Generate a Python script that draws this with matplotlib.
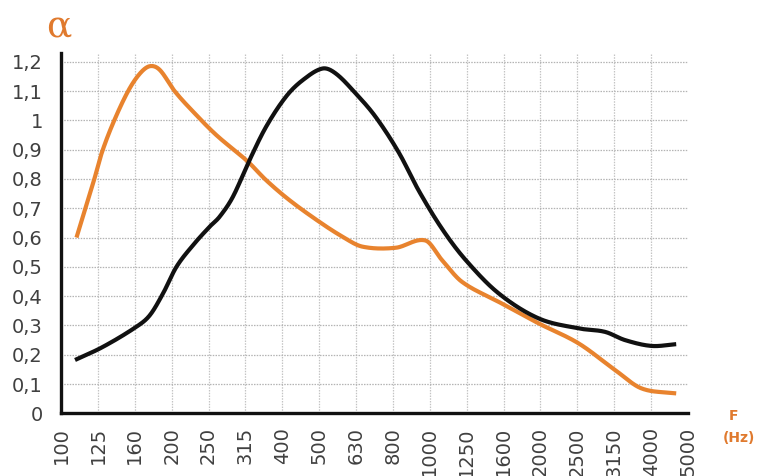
import numpy as np
import matplotlib
matplotlib.use("Agg")
import matplotlib.pyplot as plt

# 1/3-octave band labels (Hz) along the category axis
freq_labels = ["100", "125", "160", "200", "250", "315", "400", "500", "630",
               "800", "1000", "1250", "1600", "2000", "2500", "3150", "4000", "5000"]

y_ticks = [0, 0.1, 0.2, 0.3, 0.4, 0.5, 0.6, 0.7, 0.8, 0.9, 1.0, 1.1, 1.2]
y_tick_labels = ["0", "0,1", "0,2", "0,3", "0,4", "0,5", "0,6", "0,7", "0,8",
                 "0,9", "1", "1,1", "1,2"]

# Orange curve: absorption coefficient vs band position
orange_pos = [0.42, 0.87, 1.10, 1.41, 1.82, 2.14, 2.41, 2.68, 3.08, 3.58, 4.21,
              5.06, 5.56, 6.19, 7.00, 7.63, 8.17, 9.07, 9.88, 10.33, 10.87,
              11.86, 12.95, 14.03, 15.02, 15.74, 16.68]
orange_alpha = [0.60, 0.785, 0.887, 0.99, 1.10, 1.16, 1.185, 1.172, 1.10, 1.03,
                0.95, 0.86, 0.796, 0.728, 0.654, 0.603, 0.569, 0.565, 0.59,
                0.523, 0.449, 0.381, 0.307, 0.239, 0.148, 0.085, 0.068]

# Black curve
black_pos = [0.38, 1.14, 2.05, 2.41, 2.77, 3.13, 3.58, 4.03, 4.30, 4.66, 5.11,
             5.56, 6.10, 6.55, 7.09, 7.45, 7.99, 8.53, 9.16, 9.70, 10.33, 10.96,
             11.86, 12.95, 14.03, 14.75, 15.29, 16.01, 16.68]
black_alpha = [0.182, 0.227, 0.296, 0.335, 0.41, 0.50, 0.574, 0.637, 0.671,
               0.739, 0.864, 0.978, 1.081, 1.137, 1.177, 1.16, 1.092, 1.012,
               0.89, 0.76, 0.63, 0.525, 0.41, 0.324, 0.29, 0.278, 0.25, 0.23,
               0.236]

ORANGE = "#E8832E"
LABEL_ORANGE = "#E07A2E"


def smooth(xs, ys, n=30):
    """Cubic Hermite curve through the points with cardinal tangents."""
    x = np.asarray(xs, float)
    y = np.asarray(ys, float)
    m = np.empty_like(y)
    m[1:-1] = (y[2:] - y[:-2]) / (x[2:] - x[:-2])
    m[0] = (y[1] - y[0]) / (x[1] - x[0])
    m[-1] = (y[-1] - y[-2]) / (x[-1] - x[-2])
    out_x, out_y = [], []
    for i in range(len(x) - 1):
        h = x[i + 1] - x[i]
        t = np.linspace(0, 1, n, endpoint=False)
        h00 = 2 * t**3 - 3 * t**2 + 1
        h10 = t**3 - 2 * t**2 + t
        h01 = -2 * t**3 + 3 * t**2
        h11 = t**3 - t**2
        out_x.append(x[i] + t * h)
        out_y.append(h00 * y[i] + h10 * h * m[i] + h01 * y[i + 1] + h11 * h * m[i + 1])
    out_x.append([x[-1]])
    out_y.append([y[-1]])
    return np.concatenate(out_x), np.concatenate(out_y)


plt.rcParams["font.family"] = ["DejaVu Sans"]

fig = plt.figure(figsize=(7.6, 4.76), dpi=100)
ax = fig.add_axes([61 / 760, 1 - 413.3 / 476, (688 - 61) / 760, (413.3 - 53) / 476])

ax.set_xlim(0, len(freq_labels) - 1)
ax.set_ylim(0, 1.23)

# light dotted grid
for xv in range(1, len(freq_labels) - 1):
    ax.axvline(xv, color="#c4c4c4", lw=0.9, ls=(0, (1.2, 1.0)), zorder=0)
for yv in y_ticks[1:]:
    ax.axhline(yv, color="#b4b4b4", lw=0.9, ls=(0, (1.2, 1.0)), zorder=0)

ox, oy = smooth(orange_pos, orange_alpha)
bx, by = smooth(black_pos, black_alpha)
ax.plot(ox, oy, color=ORANGE, lw=3.0, solid_capstyle="butt", zorder=3)
ax.plot(bx, by, color="#111111", lw=3.0, solid_capstyle="butt", zorder=4)

ax.set_xticks(range(len(freq_labels)))
ax.set_xticklabels(freq_labels, rotation=90, va="top", ha="center")
ax.set_yticks(y_ticks)
ax.set_yticklabels(y_tick_labels)
ax.tick_params(axis="both", length=0, labelsize=14, colors="#404040")
ax.tick_params(axis="y", pad=13)
ax.tick_params(axis="x", pad=10)

for side in ("top", "right"):
    ax.spines[side].set_visible(False)
for side in ("left", "bottom"):
    ax.spines[side].set_color("#111111")
    ax.spines[side].set_linewidth(2.4)

fig.text(59 / 760, 1 - 27 / 476, "α", family="DejaVu Serif", fontsize=27,
         color=LABEL_ORANGE, ha="center", va="center")
fig.text(734 / 760, 1 - 416 / 476, "F", fontsize=10, fontweight="bold",
         color=LABEL_ORANGE, ha="center", va="center")
fig.text(739 / 760, 1 - 438 / 476, "(Hz)", fontsize=10, fontweight="bold",
         color=LABEL_ORANGE, ha="center", va="center")

fig.savefig("out.png", dpi=100)
